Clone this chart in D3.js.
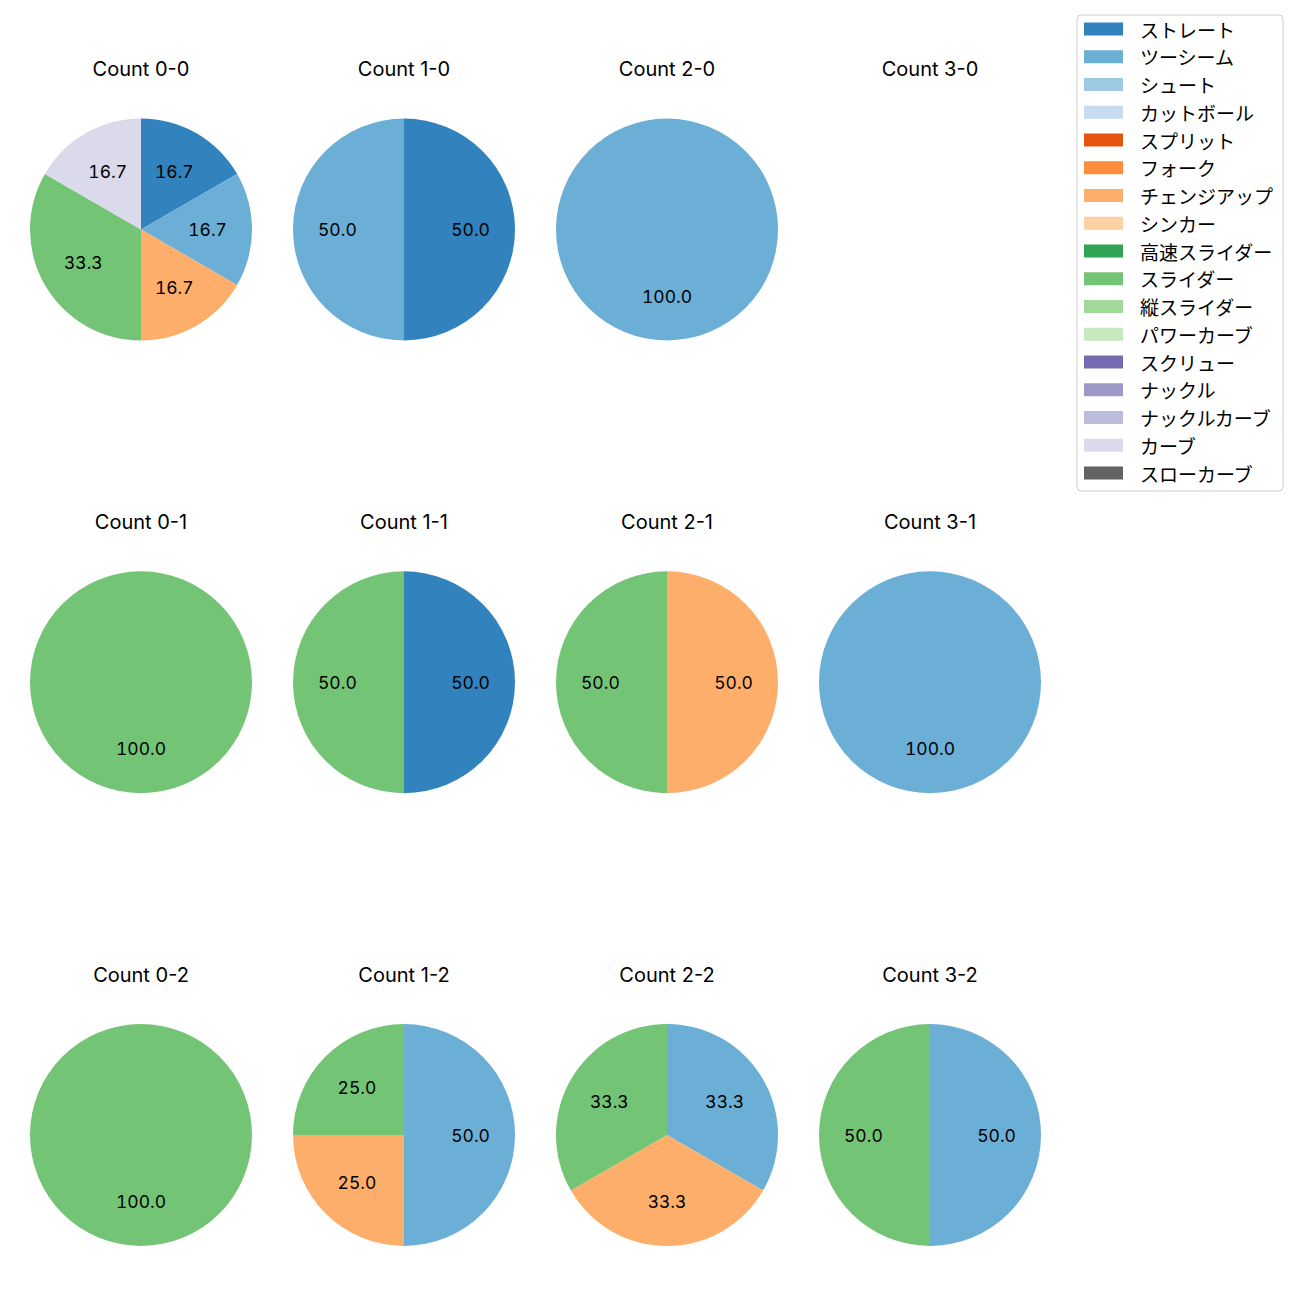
<!DOCTYPE html>
<html>
<head>
<meta charset="utf-8">
<script src="https://cdn.jsdelivr.net/npm/d3@7"></script>
<style>
  html, body { margin: 0; padding: 0; background: #fff; }
  svg { display: block; }
  text { font-family: "Noto Sans CJK JP", "Noto Sans", sans-serif; }
  text.lat { font-family: Inter, "Noto Sans", sans-serif; }
  text.num { font-family: Inter, "Noto Sans", sans-serif; font-variant-numeric: tabular-nums; font-feature-settings: "tnum" 1; }
</style>
</head>
<body>
<svg id="chart" width="1300" height="1300"></svg>
<script>
// ---- data ----
const pitchTypes = ["ストレート","ツーシーム","シュート","カットボール","スプリット","フォーク","チェンジアップ","シンカー","高速スライダー","スライダー","縦スライダー","パワーカーブ","スクリュー","ナックル","ナックルカーブ","カーブ","スローカーブ"];
const pitchColors = ["#3182bd","#6baed6","#9ecae1","#c6dbef","#e6550d","#fd8d3c","#fdae6b","#fdd0a2","#31a354","#74c476","#a1d99b","#c7e9c0","#756bb1","#9e9ac8","#bcbddc","#dadaeb","#636363"];
const countTitles = ["Count 0-0","Count 1-0","Count 2-0","Count 3-0",
                     "Count 0-1","Count 1-1","Count 2-1","Count 3-1",
                     "Count 0-2","Count 1-2","Count 2-2","Count 3-2"];
// pitches per count (type, number of pitches)
const count00 = [["ストレート",1],["ツーシーム",1],["チェンジアップ",1],["スライダー",2],["カーブ",1]];
const count10 = [["ストレート",1],["ツーシーム",1]];
const count20 = [["ツーシーム",1]];
const count30 = [];
const count01 = [["スライダー",1]];
const count11 = [["ストレート",1],["スライダー",1]];
const count21 = [["チェンジアップ",1],["スライダー",1]];
const count31 = [["ツーシーム",1]];
const count02 = [["スライダー",1]];
const count12 = [["ツーシーム",2],["チェンジアップ",1],["スライダー",1]];
const count22 = [["ツーシーム",1],["チェンジアップ",1],["スライダー",1]];
const count32 = [["ツーシーム",1],["スライダー",1]];
const panels = [count00,count10,count20,count30,count01,count11,count21,count31,count02,count12,count22,count32];

// ---- drawing ----
const svg = d3.select("#chart");
const color = d3.scaleOrdinal().domain(pitchTypes).range(pitchColors);
const xCol = d3.scaleLinear().domain([0,3]).range([141,930]);
const yRow = d3.scaleLinear().domain([0,2]).range([229.5,1135]);
const R = 111;

const pie = d3.pie().sort(null).value(d => d[1]).startAngle(0).endAngle(2*Math.PI);
const arc = d3.arc().innerRadius(0).outerRadius(R);
const labelArc = d3.arc().innerRadius(R*0.6).outerRadius(R*0.6);

panels.forEach((data, i) => {
  const col = i % 4, row = Math.floor(i / 4);
  const g = svg.append("g").attr("transform", `translate(${xCol(col)},${yRow(row)})`);
  g.append("text")
    .attr("class","lat")
    .attr("x", 0).attr("y", -160.5)
    .attr("text-anchor", "middle").attr("dominant-baseline", "central")
    .attr("font-size", 20).attr("fill", "#000")
    .text(countTitles[i]);
  if (!data.length) return;
  const total = d3.sum(data, d => d[1]);
  const arcs = pie(data);
  g.selectAll("path.w").data(arcs).join("path")
    .attr("class","w")
    .attr("d", arc)
    .attr("fill", d => color(d.data[0]));
  g.selectAll("text.l").data(arcs).join("text")
    .attr("class","l num")
    .attr("transform", d => `translate(${labelArc.centroid(d)})`)
    .attr("text-anchor","middle").attr("dominant-baseline","central")
    .attr("font-size", 17.5).attr("fill","#000")
    .text(d => (d.data[1]/total*100).toFixed(1));
});

// legend
const legX = 1077, legY = 15, legW = 206, step = 27.75;
const leg = svg.append("g");
leg.append("rect")
  .attr("x", legX).attr("y", legY).attr("width", legW).attr("height", 476)
  .attr("rx", 4).attr("ry", 4)
  .attr("fill", "#fff").attr("fill-opacity", 0.8)
  .attr("stroke", "#cccccc").attr("stroke-width", 1);
const yLeg = d3.scaleLinear().domain([0, pitchTypes.length-1]).range([29, 29 + step*(pitchTypes.length-1)]);
pitchTypes.forEach((p, i) => {
  leg.append("rect")
    .attr("x", 1084).attr("y", yLeg(i) - 6.5)
    .attr("width", 39).attr("height", 13)
    .attr("fill", color(p));
  leg.append("text")
    .attr("x", 1140).attr("y", yLeg(i))
    .attr("dominant-baseline","central")
    .attr("font-size", 19).attr("fill","#000")
    .text(p);
});
</script>
</body>
</html>
